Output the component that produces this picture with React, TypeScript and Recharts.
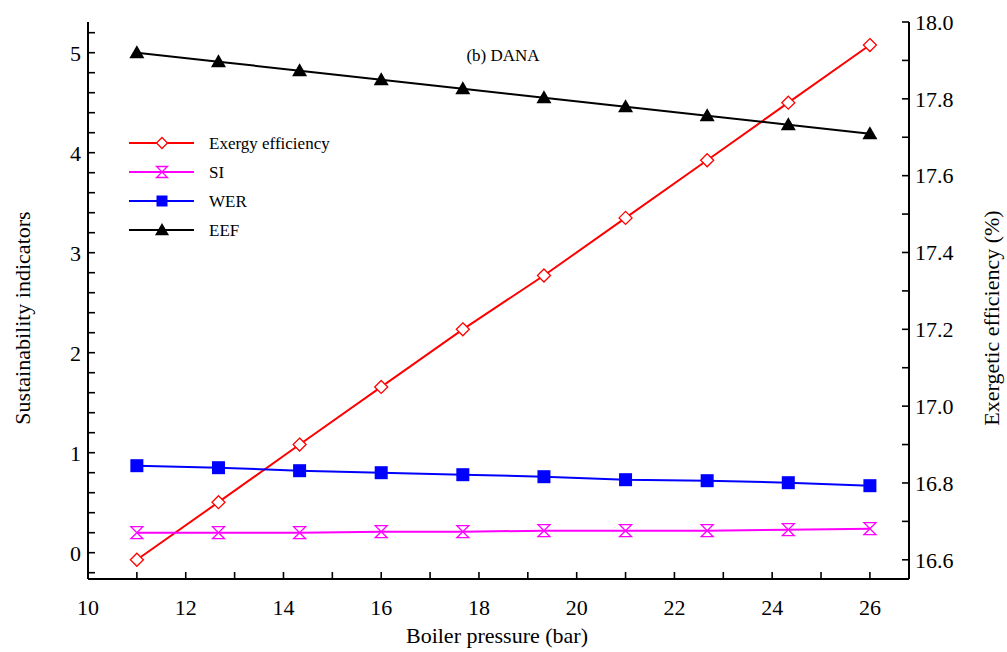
import React from 'react';
import { ComposedChart, Line, XAxis, YAxis } from 'recharts';

// Boiler pressure (bar)
const pressure = [11, 12.67, 14.33, 16, 17.67, 19.33, 21, 22.67, 24.33, 26];
// Exergetic efficiency (%) - right axis
const exergy = [16.6, 16.75, 16.9, 17.05, 17.2, 17.34, 17.49, 17.64, 17.79, 17.94];
// Sustainability indicators - left axis
const si = [0.2, 0.2, 0.2, 0.21, 0.21, 0.22, 0.22, 0.22, 0.23, 0.24];
const wer = [0.87, 0.85, 0.82, 0.8, 0.78, 0.76, 0.73, 0.72, 0.7, 0.67];
const eef = [5.0, 4.91, 4.82, 4.73, 4.64, 4.55, 4.46, 4.37, 4.28, 4.19];

const xTicks = [10, 11, 12, 13, 14, 15, 16, 17, 18, 19, 20, 21, 22, 23, 24, 25, 26];
const leftTicks = [-0.2, 0, 0.2, 0.4, 0.6, 0.8, 1, 1.2, 1.4, 1.6, 1.8, 2, 2.2, 2.4, 2.6, 2.8, 3, 3.2, 3.4, 3.6, 3.8, 4, 4.2, 4.4, 4.6, 4.8, 5, 5.2];
const rightTicks = [16.6, 16.7, 16.8, 16.9, 17.0, 17.1, 17.2, 17.3, 17.4, 17.5, 17.6, 17.7, 17.8, 17.9, 18.0];

const X_DOMAIN = [10, 26.8];
const LEFT_DOMAIN = [-0.263, 5.307];
const RIGHT_DOMAIN = [16.55, 18.0];

const data = pressure.map((p, i) => ({
  p,
  exergy: exergy[i],
  si: si[i],
  wer: wer[i],
  eef: eef[i],
}));

const W = 1007;
const H = 652;
const FONT = '"Liberation Serif", "Times New Roman", Times, serif';
const tickText = { fontSize: 22, fontFamily: FONT, fill: '#000' };
const tickLine = { stroke: '#000', strokeWidth: 1.6 };
const axisLine = { stroke: '#000', strokeWidth: 2 };

const fmtX = (v: number) => (v % 2 === 0 ? String(v) : '');
const fmtLeft = (v: number) => (Math.abs(v - Math.round(v)) < 1e-6 ? String(Math.round(v)) : '');
const fmtRight = (v: number) => (Math.round(v * 10) % 2 === 0 ? v.toFixed(1) : '');
const fmtNone = () => '';

const Diamond = ({ cx, cy, color, r = 6.5 }: any) => (
  <path d={`M${cx},${cy - r} L${cx + r},${cy} L${cx},${cy + r} L${cx - r},${cy} Z`} fill="#fff" stroke={color} strokeWidth={1.3} />
);
const Hourglass = ({ cx, cy, color, r = 6 }: any) => (
  <path
    d={`M${cx - r},${cy - r} L${cx + r},${cy - r} L${cx - r},${cy + r} L${cx + r},${cy + r} Z`}
    fill="#fff"
    stroke={color}
    strokeWidth={1.3}
  />
);
const Square = ({ cx, cy, color, r = 6.5 }: any) => (
  <rect x={cx - r} y={cy - r} width={2 * r} height={2 * r} fill={color} />
);
const Triangle = ({ cx, cy, color, r = 7.5 }: any) => (
  <path d={`M${cx},${cy - r} L${cx + r},${cy + r * 0.75} L${cx - r},${cy + r * 0.75} Z`} fill={color} />
);

const series = [
  { key: 'exergy', name: 'Exergy efficiency', color: '#ff0000', axis: 'right', Marker: Diamond },
  { key: 'si', name: 'SI', color: '#ff00ff', axis: 'left', Marker: Hourglass },
  { key: 'wer', name: 'WER', color: '#0000ff', axis: 'left', Marker: Square },
  { key: 'eef', name: 'EEF', color: '#000000', axis: 'left', Marker: Triangle },
];

const LegendBox = () => (
  <svg width={260} height={110} style={{ position: 'absolute', left: 128, top: 130 }}>
    {series.map((s, i) => {
      const cy = 13 + i * 29;
      const M = s.Marker;
      return (
        <g key={s.key}>
          <line x1={1} x2={66} y1={cy} y2={cy} stroke={s.color} strokeWidth={2} />
          <M cx={34} cy={cy} color={s.color} r={s.key === 'eef' ? 7 : 5.5} />
          <text x={81} y={cy + 6} fontSize={17} fontFamily={FONT} fill="#000">
            {s.name}
          </text>
        </g>
      );
    })}
  </svg>
);

export default function App() {
  return (
    <div style={{ position: 'absolute', left: 0, top: 0, width: W, height: H, background: '#fff' }}>
      <ComposedChart width={W} height={H} data={data} margin={{ top: 22, right: 0, bottom: 0, left: 0 }}>
        <XAxis
          xAxisId="b"
          dataKey="p"
          type="number"
          domain={X_DOMAIN}
          allowDataOverflow
          ticks={xTicks}
          interval={0}
          height={73}
          stroke="#000"
          tickSize={-7}
          tickMargin={27}
          tickLine={tickLine}
          tick={tickText}
          tickFormatter={fmtX}
          axisLine={axisLine}
          label={{
            content: () => (
              <text x={497} y={643} textAnchor="middle" fontSize={22} fontFamily={FONT} fill="#000">
                Boiler pressure (bar)
              </text>
            ),
          }}
        />
        <XAxis
          xAxisId="t"
          orientation="top"
          type="number"
          domain={X_DOMAIN}
          allowDataOverflow
          ticks={xTicks}
          interval={0}
          height={0}
          stroke="#000"
          tickSize={-7}
          tickLine={tickLine}
          tick={tickText}
          tickFormatter={fmtNone}
          axisLine={axisLine}
        />
        <YAxis
          yAxisId="left"
          orientation="left"
          type="number"
          domain={LEFT_DOMAIN}
          allowDataOverflow
          ticks={leftTicks}
          interval={0}
          width={88}
          stroke="#000"
          tickSize={-7}
          tickMargin={14}
          tickLine={tickLine}
          tick={tickText}
          tickFormatter={fmtLeft}
          axisLine={axisLine}
          label={{
            content: () => (
              <text x={30} y={318} transform="rotate(-90 30 318)" textAnchor="middle" fontSize={22} fontFamily={FONT} fill="#000">
                Sustainability indicators
              </text>
            ),
          }}
        />
        <YAxis
          yAxisId="right"
          orientation="right"
          type="number"
          domain={RIGHT_DOMAIN}
          allowDataOverflow
          ticks={rightTicks}
          interval={0}
          width={98}
          stroke="#000"
          tickSize={-7}
          tickMargin={13}
          tickLine={tickLine}
          tick={tickText}
          tickFormatter={fmtRight}
          axisLine={axisLine}
          label={{
            content: () => (
              <text x={999} y={318} transform="rotate(-90 999 318)" textAnchor="middle" fontSize={22} fontFamily={FONT} fill="#000">
                Exergetic efficiency (%)
              </text>
            ),
          }}
        />
        {series.map((s) => (
          <Line
            key={s.key}
            xAxisId="b"
            yAxisId={s.axis}
            dataKey={s.key}
            name={s.name}
            stroke={s.color}
            strokeWidth={2}
            isAnimationActive={false}
            dot={(p: any) => <s.Marker key={`${s.key}-${p.index}`} cx={p.cx} cy={p.cy} color={s.color} />}
            activeDot={false}
          />
        ))}
      </ComposedChart>
      <LegendBox />
      <div
        style={{
          position: 'absolute',
          left: 503,
          top: 46,
          transform: 'translateX(-50%)',
          fontFamily: FONT,
          fontSize: 17,
          whiteSpace: 'nowrap',
        }}
      >
        (b) DANA
      </div>
    </div>
  );
}
